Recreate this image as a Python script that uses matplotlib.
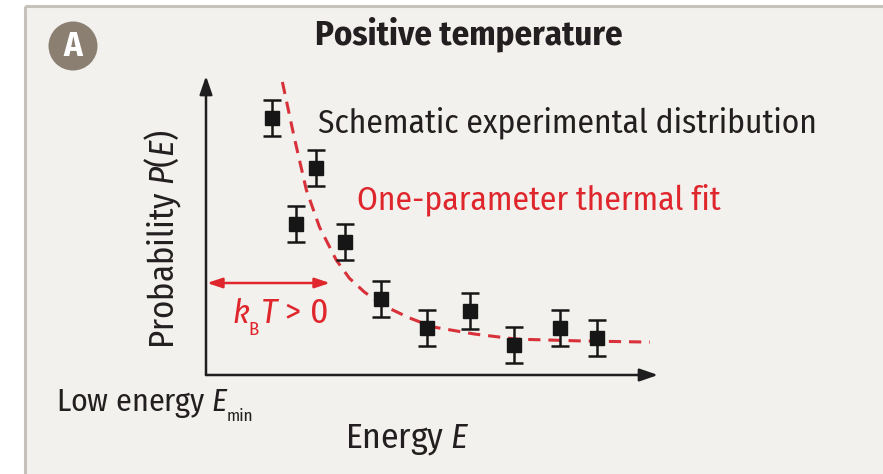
import matplotlib
matplotlib.use("Agg")
import matplotlib.pyplot as plt
from matplotlib.patches import Rectangle, Circle

# ---------------- data ----------------
energy = [1.46, 2.44, 2.00, 3.08, 3.88, 4.88, 5.85, 6.81, 7.83, 8.65]
prob = [8.60, 6.92, 5.05, 4.45, 2.54, 1.57, 2.14, 1.00, 1.57, 1.24]
prob_err = [0.59] * 10
fit_energy = [1.69, 1.95, 2.22, 2.51, 2.88, 3.17, 3.50, 3.90, 4.50, 5.01, 5.94, 6.87, 8.27, 9.82]
fit_prob = [9.80, 7.96, 6.19, 4.95, 3.85, 3.24, 2.78, 2.34, 1.91, 1.61, 1.37, 1.20, 1.14, 1.10]

title = "Positive temperature"
label_data = "Schematic experimental distribution"
label_fit = "One-parameter thermal fit"

MAIN = "Fira Sans Condensed"
FONT = [MAIN, "DejaVu Sans"]
plt.rcParams["font.family"] = FONT
plt.rcParams["mathtext.fontset"] = "custom"
plt.rcParams["mathtext.rm"] = MAIN
plt.rcParams["mathtext.it"] = MAIN + ":italic"
plt.rcParams["mathtext.bf"] = MAIN + ":bold"

W, H = 883, 474
fig = plt.figure(figsize=(W / 100, H / 100), dpi=100, facecolor="white")

ov = fig.add_axes([0, 0, 1, 1])
ov.set_xlim(0, W)
ov.set_ylim(H, 0)
ov.axis("off")

# panel
ov.add_patch(Rectangle((25, 6), W - 25, H - 6, facecolor="#f2f1ed", edgecolor="none", zorder=0))
ov.plot([25, W], [6, 6], color="#c6c1bb", lw=2.2, solid_capstyle="butt", zorder=1)
ov.plot([25, 25], [6, H], color="#c6c1bb", lw=2.2, solid_capstyle="butt", zorder=1)

# badge
ov.add_patch(Circle((73, 46), 24.5, facecolor="#8b7f72", edgecolor="none", zorder=2))
ov.text(73, 47, "A", color="white", fontsize=25, fontweight="bold", ha="center", va="center", zorder=3)

DARK = "#231f20"
RED = "#e0262d"

ov.text(469, 34, title, fontsize=25, fontweight="bold", color=DARK, ha="center", va="center")
ov.text(318, 123, label_data, fontsize=24, color=DARK, ha="left", va="center")
ov.text(357, 200, label_fit, fontsize=24, color=RED, ha="left", va="center")
ov.text(163, 239, r"Probability $P$($E$)", fontsize=25, color=DARK, rotation=90, ha="center", va="center")

# Low energy E_min
t_low = ov.text(56, 411, r"Low energy $E$", fontsize=23, color=DARK, ha="left", va="baseline")
ov.annotate("min", xy=(1, 421), xycoords=(t_low, "data"), xytext=(-3, 0), textcoords="offset pixels",
            fontsize=12.5, color=DARK, ha="left", va="baseline")

ov.text(408, 440, r"Energy $E$", fontsize=25.5, color=DARK, ha="center", va="center")

# k_B T > 0
t_k = ov.text(232, 323, "k", fontsize=24.5, style="italic", color=RED, ha="left", va="baseline")
t_b = ov.annotate("B", xy=(1, 335), xycoords=(t_k, "data"), xytext=(0, 0), textcoords="offset pixels",
                  fontsize=13.5, color=RED, ha="left", va="baseline")
ov.annotate(r"$T$ > 0", xy=(1, 323), xycoords=(t_b, "data"), xytext=(1, 0), textcoords="offset pixels",
            fontsize=25.5, color=RED, ha="left", va="baseline")

# ---------------- data axes ----------------
x0, x1, y0, y1 = 206, 658, 375, 76
ax = fig.add_axes([x0 / W, 1 - y0 / H, (x1 - x0) / W, (y0 - y1) / H])
ax.set_xlim(0, 10)
ax.set_ylim(0, 10)
ax.patch.set_alpha(0)
for s in ax.spines.values():
    s.set_visible(False)
ax.set_xticks([])
ax.set_yticks([])

ax.plot(fit_energy, fit_prob, color="#d9313a", lw=2.2, ls=(0, (4, 2.6)), zorder=2)
ax.errorbar(energy, prob, yerr=prob_err, fmt="s", color="#161616", ms=10.5,
            elinewidth=1.8, capsize=6.5, capthick=1.8, zorder=3)

arrow_kw = dict(arrowstyle="-|>,head_length=1.1,head_width=0.38", color="#1e1e1e", lw=1.8,
                shrinkA=0, shrinkB=0)
ax.annotate("", xy=(0, 1), xytext=(0, 0), xycoords="axes fraction", textcoords="axes fraction",
            arrowprops=arrow_kw, annotation_clip=False)
ax.annotate("", xy=(1, 0), xytext=(0, 0), xycoords="axes fraction", textcoords="axes fraction",
            arrowprops=arrow_kw, annotation_clip=False)

# kBT arrow
ov.annotate("", xy=(330, 283), xytext=(207, 283),
            arrowprops=dict(arrowstyle="<|-|>,head_length=0.9,head_width=0.3", color=RED, lw=1.8,
                            shrinkA=0, shrinkB=0))

fig.savefig("out.png", dpi=100, facecolor="white")
